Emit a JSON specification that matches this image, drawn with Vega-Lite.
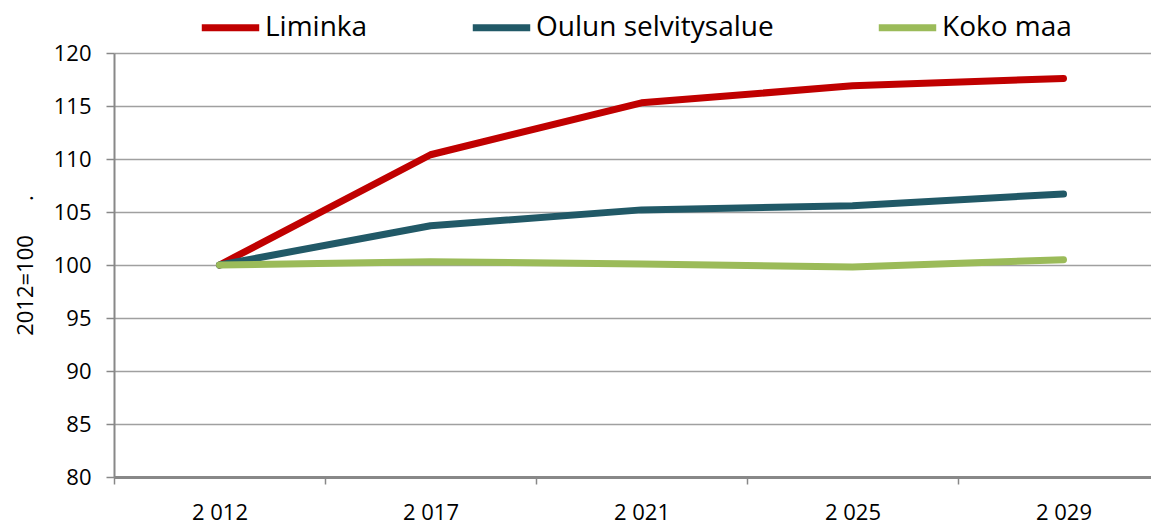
{
  "$schema": "https://vega.github.io/schema/vega-lite/v6.json",
  "width": 1055,
  "height": 424,
  "autosize": {"type": "none"},
  "padding": {"left": 114, "top": 53, "right": 0, "bottom": 45},
  "background": "white",
  "config": {
    "view": {"stroke": null},
    "font": "Open Sans"
  },
  "data": {
    "values": [
      {"year": "2 012", "series": "Liminka", "value": 100},
      {"year": "2 017", "series": "Liminka", "value": 110.4},
      {"year": "2 021", "series": "Liminka", "value": 115.3},
      {"year": "2 025", "series": "Liminka", "value": 116.9},
      {"year": "2 029", "series": "Liminka", "value": 117.6},
      {"year": "2 012", "series": "Oulun selvitysalue", "value": 100},
      {"year": "2 017", "series": "Oulun selvitysalue", "value": 103.7},
      {"year": "2 021", "series": "Oulun selvitysalue", "value": 105.2},
      {"year": "2 025", "series": "Oulun selvitysalue", "value": 105.6},
      {"year": "2 029", "series": "Oulun selvitysalue", "value": 106.7},
      {"year": "2 012", "series": "Koko maa", "value": 100},
      {"year": "2 017", "series": "Koko maa", "value": 100.3},
      {"year": "2 021", "series": "Koko maa", "value": 100.1},
      {"year": "2 025", "series": "Koko maa", "value": 99.8},
      {"year": "2 029", "series": "Koko maa", "value": 100.5}
    ]
  },
  "mark": {"type": "line", "strokeWidth": 7, "strokeCap": "round", "strokeJoin": "round"},
  "encoding": {
    "x": {
      "field": "year",
      "type": "ordinal",
      "sort": null,
      "scale": {"type": "band", "paddingInner": 0, "paddingOuter": 0},
      "axis": {
        "title": null,
        "labelAngle": 0,
        "labelFontSize": 22,
        "labelColor": "#000000",
        "labelPadding": 18,
        "tickOffset": -105.5,
        "labelOffset": 105.5,
        "tickSize": 7,
        "tickColor": "#888888",
        "tickWidth": 1.5,
        "domainColor": "#888888",
        "domainWidth": 3,
        "grid": false
      }
    },
    "y": {
      "field": "value",
      "type": "quantitative",
      "scale": {"domain": [80, 120], "nice": false, "zero": false},
      "axis": {
        "title": "2012=100\u00a0\u00a0\u00a0\u00a0\u00a0\u00a0.",
        "titleFontSize": 22,
        "titleFontWeight": "normal",
        "titleColor": "#000000",
        "titlePadding": 16,
        "values": [80, 85, 90, 95, 100, 105, 110, 115, 120],
        "labelFontSize": 22,
        "labelColor": "#000000",
        "labelPadding": 15,
        "tickSize": 8,
        "tickColor": "#888888",
        "tickWidth": 1.5,
        "domainColor": "#888888",
        "domainWidth": 2,
        "grid": true,
        "gridColor": "#A0A0A0",
        "gridWidth": 1.5
      }
    },
    "color": {
      "field": "series",
      "type": "nominal",
      "sort": ["Liminka", "Oulun selvitysalue", "Koko maa"],
      "scale": {
        "domain": ["Liminka", "Oulun selvitysalue", "Koko maa"],
        "range": ["#C00000", "#215967", "#9BBB59"]
      },
      "legend": {
        "title": null,
        "orient": "none",
        "direction": "horizontal",
        "legendX": 84,
        "legendY": -58,
        "symbolType": "stroke",
        "symbolSize": 3300,
        "symbolStrokeWidth": 7,
        "labelFontSize": 28,
        "labelColor": "#000000",
        "labelOffset": 2,
        "columnPadding": 90,
        "labelLimit": 400
      }
    }
  }
}
